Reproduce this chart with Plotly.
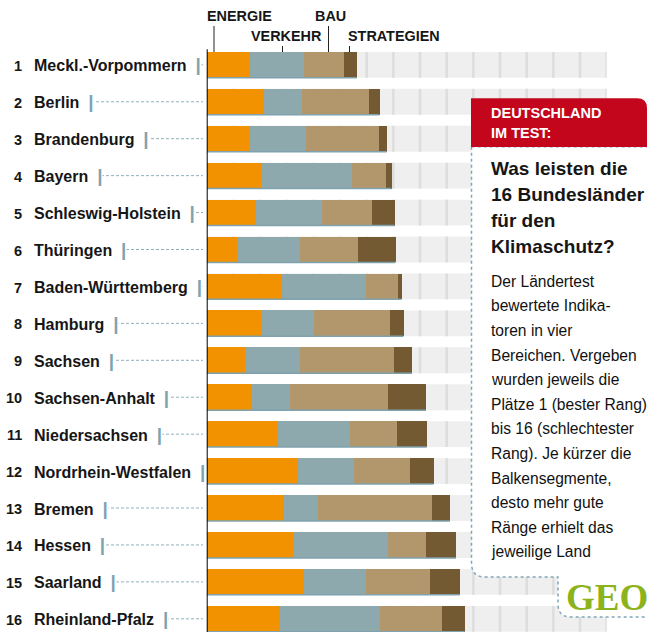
import plotly.graph_objects as go

# ---------------- data ----------------
laender = ["Meckl.-Vorpommern", "Berlin", "Brandenburg", "Bayern", "Schleswig-Holstein",
           "Thüringen", "Baden-Württemberg", "Hamburg", "Sachsen", "Sachsen-Anhalt",
           "Niedersachsen", "Nordrhein-Westfalen", "Bremen", "Hessen", "Saarland",
           "Rheinland-Pfalz"]
platz = [1, 2, 3, 4, 5, 6, 7, 8, 9, 10, 11, 12, 13, 14, 15, 16]
bereiche = ["ENERGIE", "VERKEHR", "BAU", "STRATEGIEN"]
energie    = [6.4, 8.6, 6.4, 8.2, 7.3, 4.6, 11.3, 8.3, 5.9, 6.8, 10.7, 13.7, 11.5, 13.0, 14.5, 10.9]
verkehr    = [8.1, 5.6, 8.4, 13.6, 9.9, 9.3, 12.5, 7.8, 8.1, 5.6, 10.7, 8.4, 5.2, 14.2, 9.4, 15.0]
bau        = [6.1, 10.1, 11.0, 5.0, 7.5, 8.7, 4.9, 11.4, 14.1, 14.8, 7.1, 8.4, 17.1, 5.7, 9.6, 9.3]
strategien = [1.9, 1.6, 1.2, 0.9, 3.5, 5.7, 0.5, 2.0, 2.7, 5.7, 4.5, 3.5, 2.7, 4.5, 4.5, 3.5]
skala_max = 60
skala_schritt = 4

box_titel = ["DEUTSCHLAND", "IM TEST:"]
box_frage = ["Was leisten die", "16 Bundesländer", "für den", "Klimaschutz?"]
box_text = ["Der Ländertest", "bewertete Indika-", "toren in vier", "Bereichen. Vergeben",
            "wurden jeweils die", "Plätze 1 (bester Rang)", "bis 16 (schlechtester",
            "Rang). Je kürzer die", "Balkensegmente,", "desto mehr gute",
            "Ränge erhielt das", "jeweilige Land"]

# ---------------- style ----------------
W, H = 647, 632
farben = ["#f39200", "#8da9ad", "#b3976c", "#735a33"]
SANS = "Liberation Sans, Arial, sans-serif"
TXT = "#161616"

def px(x):
    return x / W

def py(y):
    return 1 - y / H

ypos = list(range(len(laender)))
serien = [energie, verkehr, bau, strategien]

fig = go.Figure()
base = [0.0] * len(laender)
for name, vals, col in zip(bereiche, serien, farben):
    fig.add_trace(go.Bar(
        y=ypos, x=vals, base=list(base), orientation="h", width=0.70,
        marker=dict(color=col, line=dict(width=0)), name=name, showlegend=False,
        hovertemplate=name + ": %{x}<extra></extra>"))
    base = [b + v for b, v in zip(base, vals)]
summe = base

shapes = []
half = 0.35
# grey background cells
for i in ypos:
    shapes.append(dict(type="rect", xref="x", yref="y", x0=0, x1=skala_max,
                       y0=i - half, y1=i + half, fillcolor="#eeefee",
                       line=dict(width=0), layer="below"))
    for k in range(skala_schritt, skala_max + 1, skala_schritt):
        shapes.append(dict(type="line", xref="x", yref="y", x0=k, x1=k,
                           y0=i - half, y1=i + half,
                           line=dict(color="#dcdddc", width=2.5), layer="below"))
# bottom line under bars
for i in ypos:
    shapes.append(dict(type="line", xref="x", yref="y", x0=0, x1=summe[i],
                       y0=i + half, y1=i + half,
                       line=dict(color="#7fa2ae", width=1.5)))
# leader dashed lines
for i in ypos:
    shapes.append(dict(type="line", xref="paper", yref="y", x0=px(36), x1=px(203),
                       y0=i, y1=i, line=dict(color="#8fb0bb", width=1, dash="3px,2px")))
# axis line
shapes.append(dict(type="line", xref="x", yref="y", x0=0, x1=0, y0=-0.42, y1=15.6,
                   line=dict(color="#000000", width=2)))
# header ticks
for xt, y0 in [(214, 26), (282.5, 46), (328.5, 26), (349.5, 46)]:
    shapes.append(dict(type="line", xref="paper", yref="paper", x0=px(xt), x1=px(xt),
                       y0=py(y0), y1=py(52), line=dict(color="#222222", width=1)))

def path(pts):
    out = ""
    for cmd, coords in pts:
        out += cmd + " ".join(f"{px(x):.5f},{py(y):.5f}" for x, y in coords) + " "
    return out + "Z"

box = path([("M", [(471.5, 146.7)]), ("L", [(471.5, 563)]),
            ("Q", [(471.5, 577), (485.5, 577)]), ("L", [(558, 577)]),
            ("L", [(558, 604)]), ("Q", [(558, 617), (571, 617)]),
            ("L", [(650, 617)]), ("L", [(650, 146.7)])])
shapes.append(dict(type="path", xref="paper", yref="paper", path=box,
                   fillcolor="#ffffff", line=dict(color="#7fa6b8", width=1.5, dash="dot")))
hdr = path([("M", [(471, 147)]), ("L", [(471, 98.3)]), ("L", [(637, 98.3)]),
            ("Q", [(647, 98.3), (647, 108)]), ("L", [(647, 147)])])
shapes.append(dict(type="path", xref="paper", yref="paper", path=hdr,
                   fillcolor="#c4061d", line=dict(width=0)))

ann = []
for i in ypos:
    ann.append(dict(xref="paper", yref="y", x=px(24), y=i + 0.03, xanchor="right",
                    yanchor="middle", text="<b>" + str(platz[i]) + "</b>", showarrow=False,
                    font=dict(family=SANS, size=14.5, color=TXT)))
    ann.append(dict(xref="paper", yref="y", x=px(33), y=i, xanchor="left", yanchor="middle",
                    text="<b>" + laender[i] + "\u00a0\u00a0<span style='color:#7fa3ae;"
                         "font-size:19px'>|</span></b>",
                    showarrow=False, bgcolor="#ffffff", borderpad=0,
                    font=dict(family=SANS, size=16, color=TXT)))
for lab, xl, yc in zip(bereiche, [205, 249, 313, 346], [16, 36, 16, 36]):
    ann.append(dict(xref="paper", yref="paper", x=px(xl), y=py(yc), xanchor="left",
                    yanchor="middle", text="<b>" + lab + "</b>", showarrow=False,
                    font=dict(family=SANS, size=14.4, color=TXT)))
for k, t in enumerate(box_titel):
    bl = 118.3 + 20 * k
    ann.append(dict(xref="paper", yref="paper", x=px(489), y=py(bl - 5), xanchor="left",
                    yanchor="middle", text="<b>" + t + "</b>", showarrow=False,
                    font=dict(family=SANS, size=14.5, color="#ffffff")))
for k, t in enumerate(box_frage):
    bl = 175 + 26 * k
    ann.append(dict(xref="paper", yref="paper", x=px(489), y=py(bl - 6.7), xanchor="left",
                    yanchor="middle", text="<b>" + t + "</b>", showarrow=False,
                    font=dict(family=SANS, size=19, color=TXT)))
for k, t in enumerate(box_text):
    bl = 286.7 + 24.6 * k
    ann.append(dict(xref="paper", yref="paper", x=px(489), y=py(bl - 5.5), xanchor="left",
                    yanchor="middle", text=t, showarrow=False,
                    font=dict(family=SANS, size=15.6, color="#111111")))
ann.append(dict(xref="paper", yref="paper", x=px(607), y=py(597), xanchor="center",
                yanchor="middle", text="<b>GEO</b>", showarrow=False,
                font=dict(family="Liberation Serif, Times New Roman, serif", size=37,
                          color="#8cb31c")))

fig.update_layout(
    width=W, height=H, margin=dict(l=0, r=0, t=0, b=0),
    paper_bgcolor="#ffffff", plot_bgcolor="rgba(0,0,0,0)",
    barmode="overlay", bargap=0,
    xaxis=dict(range=[0, skala_max], domain=[206.7 / W, 606.7 / W], visible=False,
               fixedrange=True),
    yaxis=dict(range=[15.357, -1.756], domain=[0, 1], visible=False, fixedrange=True),
    shapes=shapes, annotations=ann, showlegend=False,
)
fig.write_html(
    "out.html",
    config={"displayModeBar": False},
    post_script="document.body.style.margin='0';document.body.style.padding='0';"
                "document.body.style.overflow='hidden';",
)
